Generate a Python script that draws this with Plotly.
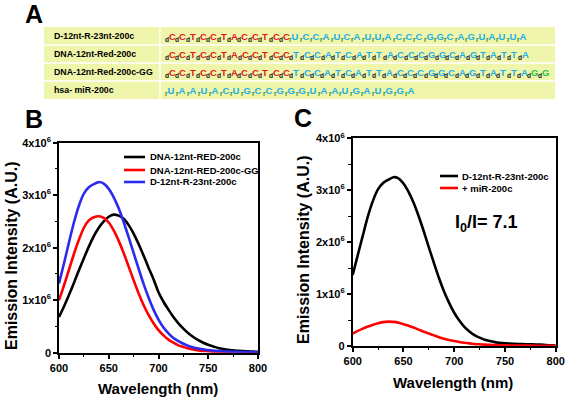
import plotly.graph_objects as go

# ---------------- data ----------------
wavelength = [600, 605, 610, 615, 620, 625, 630, 635, 640, 645, 650, 655, 660, 665, 670,
              675, 680, 685, 690, 695, 700, 705, 710, 715, 720, 725, 730, 735, 740, 745,
              750, 755, 760, 765, 770, 775, 780, 785, 790, 795, 800]

# Panel B (units of 10^6)
dna_red_200c = [0.68, 0.88, 1.10, 1.33, 1.57, 1.80, 2.02, 2.22, 2.38, 2.50, 2.59, 2.63, 2.61, 2.55, 2.43,
                2.27, 2.07, 1.85, 1.62, 1.40, 1.15, 0.97, 0.82, 0.68, 0.56, 0.46, 0.37, 0.30, 0.24, 0.19,
                0.15, 0.12, 0.09, 0.07, 0.055, 0.045, 0.035, 0.030, 0.025, 0.020, 0.018]
dna_red_200c_gg = [1.00, 1.28, 1.58, 1.88, 2.15, 2.38, 2.52, 2.58, 2.60, 2.57, 2.48, 2.33, 2.13, 1.90, 1.64,
                   1.38, 1.13, 0.91, 0.72, 0.56, 0.43, 0.33, 0.25, 0.19, 0.14, 0.11, 0.08, 0.06, 0.045, 0.035,
                   0.027, 0.020, 0.015, 0.012, 0.010, 0.008, 0.007, 0.006, 0.005, 0.005, 0.004]
d12_r23_200c = [1.32, 1.70, 2.10, 2.48, 2.80, 3.03, 3.15, 3.21, 3.25, 3.22, 3.12, 2.96, 2.75, 2.49, 2.20,
                1.90, 1.60, 1.31, 1.05, 0.82, 0.63, 0.48, 0.37, 0.28, 0.22, 0.17, 0.13, 0.10, 0.08, 0.065,
                0.050, 0.040, 0.033, 0.027, 0.022, 0.018, 0.015, 0.013, 0.012, 0.011, 0.010]

# Panel C (units of 10^6)
c_probe = [1.37, 1.75, 2.13, 2.50, 2.80, 3.02, 3.14, 3.20, 3.25, 3.23, 3.13, 2.97, 2.76, 2.50, 2.21,
           1.90, 1.60, 1.31, 1.05, 0.83, 0.64, 0.49, 0.37, 0.28, 0.21, 0.16, 0.12, 0.095, 0.075, 0.06,
           0.050, 0.045, 0.040, 0.037, 0.034, 0.032, 0.030, 0.028, 0.020, 0.015, 0.010]
c_plus_mir = [0.24, 0.29, 0.335, 0.375, 0.41, 0.44, 0.46, 0.47, 0.465, 0.45, 0.42, 0.39, 0.355, 0.315, 0.275,
              0.24, 0.205, 0.17, 0.14, 0.115, 0.095, 0.077, 0.062, 0.05, 0.04, 0.033, 0.027, 0.022, 0.018, 0.015,
              0.013, 0.011, 0.010, 0.009, 0.008, 0.007, 0.006, 0.006, 0.005, 0.005, 0.005]

x_ticks = [600, 650, 700, 750, 800]
x_minor = [625, 675, 725, 775]
y_ticks = [0, 1, 2, 3, 4]
y_ticktext = ["0", "1x10<sup>6</sup>", "2x10<sup>6</sup>", "3x10<sup>6</sup>", "4x10<sup>6</sup>"]
y_minor = [0.5, 1.5, 2.5, 3.5]

names_b = ["DNA-12nt-RED-200c", "DNA-12nt-RED-200c-GG", "D-12nt-R-23nt-200c"]
colors_b = ["#000000", "#ff0000", "#2b2bf0"]
names_c = ["D-12nt-R-23nt-200c", "+ miR-200c"]
colors_c = ["#000000", "#ff0000"]

table_names = ["D-12nt-R-23nt-200c", "DNA-12nt-Red-200c", "DNA-12nt-Red-200c-GG", "hsa- miR-200c"]
dna_part = "CCTCCTACCTCC"
rna_part = "UCCAUCAUUACCCGGCAGUAUUA"
dna_tail = "TCCATCATTACCCGGCAGTATTA"
gg_part = "GG"
mir_seq = "UAAUACUGCCGGGUAAUGAUGGA"

# ---------------- helpers ----------------
W, H = 569, 401
def px(x):
    return x / W
def py(y):
    return 1 - y / H

RED_SEQ = "#e8141c"
CYAN = "#22aee6"
GREEN = "#22c24a"
SUBD = "#222222"
SUBR = "#2c8c2c"

def seq_items(seq, color, prefix, subcol):
    return [(ch, color, prefix, subcol) for ch in seq]

rows_items = [
    seq_items(dna_part, RED_SEQ, "d", SUBD) + seq_items(rna_part, CYAN, "r", SUBR),
    seq_items(dna_part, RED_SEQ, "d", SUBD) + seq_items(dna_tail, CYAN, "d", SUBD),
    seq_items(dna_part, RED_SEQ, "d", SUBD) + seq_items(dna_tail, CYAN, "d", SUBD) + seq_items(gg_part, GREEN, "d", SUBD),
    seq_items(mir_seq, CYAN, "r", SUBR),
]
row_pitch = [10.35, 10.37, 10.35, 10.9]

fig = go.Figure()

for name, vals, col in zip(names_b, [dna_red_200c, dna_red_200c_gg, d12_r23_200c], colors_b):
    fig.add_trace(go.Scatter(x=wavelength, y=vals, mode="lines", name=name,
                             line=dict(color=col, width=2.6, shape="spline", smoothing=0.6),
                             xaxis="x", yaxis="y", showlegend=False))
for name, vals, col in zip(names_c, [c_probe, c_plus_mir], colors_c):
    fig.add_trace(go.Scatter(x=wavelength, y=vals, mode="lines", name=name,
                             line=dict(color=col, width=2.6, shape="spline", smoothing=0.6),
                             xaxis="x2", yaxis="y2", showlegend=False))

tickfont = dict(family="Arial", size=11, color="black", weight="bold")
def xax(domain, anchor):
    return dict(domain=domain, anchor=anchor, range=[600, 800], tickmode="array", tickvals=x_ticks,
                ticks="outside", ticklen=4, tickwidth=1.5, tickcolor="black", automargin=False,
                minor=dict(tickvals=x_minor, ticks="outside", ticklen=2.5, tickwidth=1.2, tickcolor="black"),
                showline=True, linewidth=1.6, linecolor="black", mirror=True,
                showgrid=False, zeroline=False, tickfont=tickfont)
def yax(domain, anchor):
    return dict(domain=domain, anchor=anchor, range=[0, 4], tickmode="array", tickvals=y_ticks,
                ticktext=y_ticktext, automargin=False,
                ticks="outside", ticklen=4, tickwidth=1.5, tickcolor="black",
                minor=dict(tickvals=y_minor, ticks="outside", ticklen=2.5, tickwidth=1.2, tickcolor="black"),
                showline=True, linewidth=1.6, linecolor="black", mirror=True,
                showgrid=False, zeroline=False, tickfont=tickfont)

shapes = []
annotations = []

# ---- Panel A table ----
TAB_BG = "#eff6ab"
shapes.append(dict(type="rect", xref="paper", yref="paper", x0=px(44), x1=px(555), y0=py(99), y1=py(27),
                   fillcolor=TAB_BG, line=dict(width=0), layer="below"))
for yy in [45, 63, 81]:
    shapes.append(dict(type="line", xref="paper", yref="paper", x0=px(44), x1=px(555), y0=py(yy), y1=py(yy),
                       line=dict(color="white", width=1.5)))
shapes.append(dict(type="line", xref="paper", yref="paper", x0=px(160), x1=px(160), y0=py(99), y1=py(27),
                   line=dict(color="white", width=1.5)))
row_y = [36, 54, 72, 90]
for nm, items, pitch, yy in zip(table_names, rows_items, row_pitch, row_y):
    annotations.append(dict(xref="paper", yref="paper", x=px(52), y=py(yy), text=nm, showarrow=False,
                            xanchor="left", yanchor="middle",
                            font=dict(family="Arial", size=8.8, color="black", weight="bold")))
    for i, (ch, col, pre, subcol) in enumerate(items):
        txt = "<sub><span style='color:%s'>%s</span></sub>%s" % (subcol, pre, ch)
        annotations.append(dict(xref="paper", yref="paper", x=px(163 + i * pitch), y=py(yy + 1), text=txt,
                                showarrow=False, xanchor="left", yanchor="middle",
                                font=dict(family="Arial", size=9.5, color=col, weight="bold")))

# ---- panel letters ----
for lab, xx, yy in [("A", 34, 14), ("B", 34, 119), ("C", 303, 118)]:
    annotations.append(dict(xref="paper", yref="paper", x=px(xx), y=py(yy), text=lab, showarrow=False,
                            xanchor="center", yanchor="middle",
                            font=dict(family="Arial", size=25, color="black", weight="bold")))

# ---- axis titles ----
title_font = dict(family="Arial", size=15, color="black", weight="bold")
annotations.append(dict(xref="paper", yref="paper", x=px(158), y=py(388), text="Wavelength (nm)",
                        showarrow=False, xanchor="center", yanchor="middle", font=title_font))
annotations.append(dict(xref="paper", yref="paper", x=px(453), y=py(382), text="Wavelength (nm)",
                        showarrow=False, xanchor="center", yanchor="middle", font=title_font))
ytitle_font = dict(family="Arial", size=16, color="black", weight="bold")
annotations.append(dict(xref="paper", yref="paper", x=px(11), y=py(256), text="Emission Intensity (A.U.)",
                        showarrow=False, xanchor="center", yanchor="middle", textangle=-90, font=ytitle_font))
annotations.append(dict(xref="paper", yref="paper", x=px(303), y=py(250), text="Emission Intensity (A.U.)",
                        showarrow=False, xanchor="center", yanchor="middle", textangle=-90, font=ytitle_font))

# ---- legends (manual) ----
leg_font = dict(family="Arial", size=9.5, color="black", weight="bold")
for nm, col, yy in zip(names_b, colors_b, [157, 170, 182]):
    shapes.append(dict(type="line", xref="paper", yref="paper", x0=px(124), x1=px(145), y0=py(yy), y1=py(yy),
                       line=dict(color=col, width=2.6)))
    annotations.append(dict(xref="paper", yref="paper", x=px(148), y=py(yy), text=nm, showarrow=False,
                            xanchor="left", yanchor="middle", font=leg_font))
for nm, col, yy in zip(names_c, colors_c, [176, 188]):
    shapes.append(dict(type="line", xref="paper", yref="paper", x0=px(440), x1=px(458), y0=py(yy), y1=py(yy),
                       line=dict(color=col, width=2.6)))
    annotations.append(dict(xref="paper", yref="paper", x=px(460), y=py(yy), text=nm, showarrow=False,
                            xanchor="left", yanchor="middle", font=leg_font))

annotations.append(dict(xref="paper", yref="paper", x=px(486), y=py(223), text="I<sub>0</sub>/I= 7.1",
                        showarrow=False, xanchor="center", yanchor="middle",
                        font=dict(family="Arial", size=18, color="black", weight="bold")))

fig.update_layout(
    template="none",
    width=W, height=H, margin=dict(l=0, r=0, t=0, b=0, autoexpand=False),
    paper_bgcolor="white", plot_bgcolor="white",
    xaxis=xax([px(59), px(258)], "y"),
    yaxis=yax([py(352.7), py(142.7)], "x"),
    xaxis2=xax([px(352.7), px(555.7)], "y2"),
    yaxis2=yax([py(346), py(138.3)], "x2"),
    shapes=shapes, annotations=annotations, showlegend=False,
)

fig.write_html("out.html", config={"displayModeBar": False},
               post_script="document.body.style.margin='0';document.body.style.padding='0';document.body.style.overflow='hidden';")
